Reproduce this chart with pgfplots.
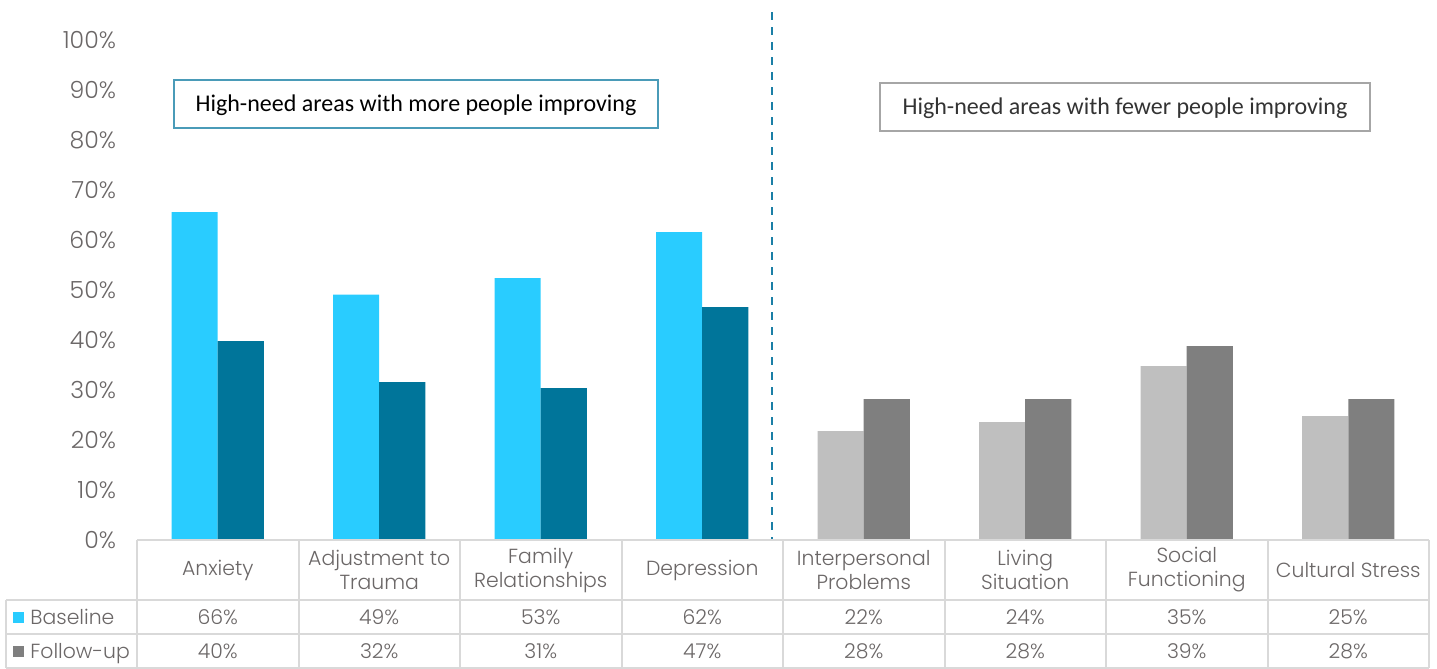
\documentclass[border=0pt]{standalone}
\usepackage{pgfplots}
\pgfplotsset{compat=1.18}
\usepackage{fontspec}
\setmainfont{Poppins}[UprightFont={* Light}]
\newfontfamily\calfont{Carlito}
\definecolor{cblue}{HTML}{29CCFF}
\definecolor{cteal}{HTML}{00759A}
\definecolor{clgray}{HTML}{BFBFBF}
\definecolor{cdgray}{HTML}{7F7F7F}
\definecolor{tgray}{HTML}{6B6767}
\definecolor{grid}{HTML}{D9D9D9}
\definecolor{dashc}{HTML}{1B7FA6}
\definecolor{boxblue}{HTML}{4A9BB8}
\definecolor{boxgray}{HTML}{A6A6A6}
\begin{document}
\begin{tikzpicture}
\begin{scope}[x=0.5pt,y=-0.5pt]
\path[use as bounding box] (0,0) rectangle (1437,668);
\end{scope}
\begin{axis}[
  at={(68.5pt,-270pt)}, anchor=south west,
  scale only axis, width=646pt, height=250pt,
  xmin=-0.5, xmax=7.5, ymin=0, ymax=100,
  axis line style={draw=none},
  major tick length=0pt,
  xtick=\empty,
  ytick={0,10,...,100},
  yticklabel={\pgfmathprintnumber[assume math mode=true]{\tick}\%},
  yticklabel style={font=\fontsize{11.8}{13}\selectfont, text=tgray, xshift=-7pt},
  clip=false,
  bar width=0.285,
]
\addplot[ybar, bar shift=-0.1425, fill=cblue, draw=none] coordinates {(0,65.6) (1,49.1) (2,52.4) (3,61.6)};
\addplot[ybar, bar shift=0.1425, fill=cteal, draw=none] coordinates {(0,39.8) (1,31.6) (2,30.4) (3,46.6)};
\addplot[ybar, bar shift=-0.1425, fill=clgray, draw=none] coordinates {(4,21.8) (5,23.6) (6,34.8) (7,24.8)};
\addplot[ybar, bar shift=0.1425, fill=cdgray, draw=none] coordinates {(4,28.2) (5,28.2) (6,38.8) (7,28.2)};
\end{axis}
\begin{scope}[x=0.5pt,y=-0.5pt]
% dashed separator
\draw[dashc, line width=1pt, dash pattern=on 4pt off 3.5pt] (772,12) -- (772,540);
% boxes
\draw[boxblue, line width=0.6pt, fill=white] (174,80) rectangle (658,128);
\node[font=\calfont\fontsize{12}{14}\selectfont, text=black] at (416,105) {High-need areas with more people improving};
\draw[boxgray, line width=0.6pt, fill=white] (880,83) rectangle (1370,131);
\node[font=\calfont\fontsize{12}{14}\selectfont, text=black!80] at (1125,108) {High-need areas with fewer people improving};
% table grid
\draw[grid, line width=1pt] (137,540) -- (1429,540);
\draw[grid, line width=1pt] (6,600) -- (1429,600);
\draw[grid, line width=1pt] (6,634) -- (1429,634);
\draw[grid, line width=1pt] (6,667.5) -- (1429,667.5);
\draw[grid, line width=1pt] (6,600) -- (6,668);
\foreach \k in {0,...,8} {
  \draw[grid, line width=1pt] ({137+161.5*\k},540) -- ({137+161.5*\k},668);
}
% category labels
\begin{scope}[every node/.style={font=\fontsize{10.2}{12}\selectfont, text=tgray, align=center}]
\node at ({137+161.5*0.5},570) {Anxiety};
\node at ({137+161.5*1.5},570) {Adjustment to\\Trauma};
\node at ({137+161.5*2.5},570) {Family\\Relationships};
\node at ({137+161.5*3.5},570) {Depression};
\node at ({137+161.5*4.5},570) {Interpersonal\\Problems};
\node at ({137+161.5*5.5},570) {Living\\Situation};
\node at ({137+161.5*6.5},570) {Social\\Functioning};
\node at ({137+161.5*7.5},570) {Cultural Stress};
\foreach \v [count=\i from 0] in {66,49,53,62,22,24,35,25} {
  \node[anchor=base] at ({137+161.5*(\i+0.5)},624) {\v\%};
}
\foreach \v [count=\i from 0] in {40,32,31,47,28,28,39,28} {
  \node[anchor=base] at ({137+161.5*(\i+0.5)},658) {\v\%};
}
\fill[cblue] (13,612) rectangle (24,623);
\fill[cdgray] (13,646) rectangle (24,657);
\node[anchor=base west, inner sep=2pt] at (26,624) {Baseline};
\node[anchor=base west, inner sep=2pt] at (26,658) {Follow-up};
\end{scope}
\end{scope}
\end{tikzpicture}
\end{document}
